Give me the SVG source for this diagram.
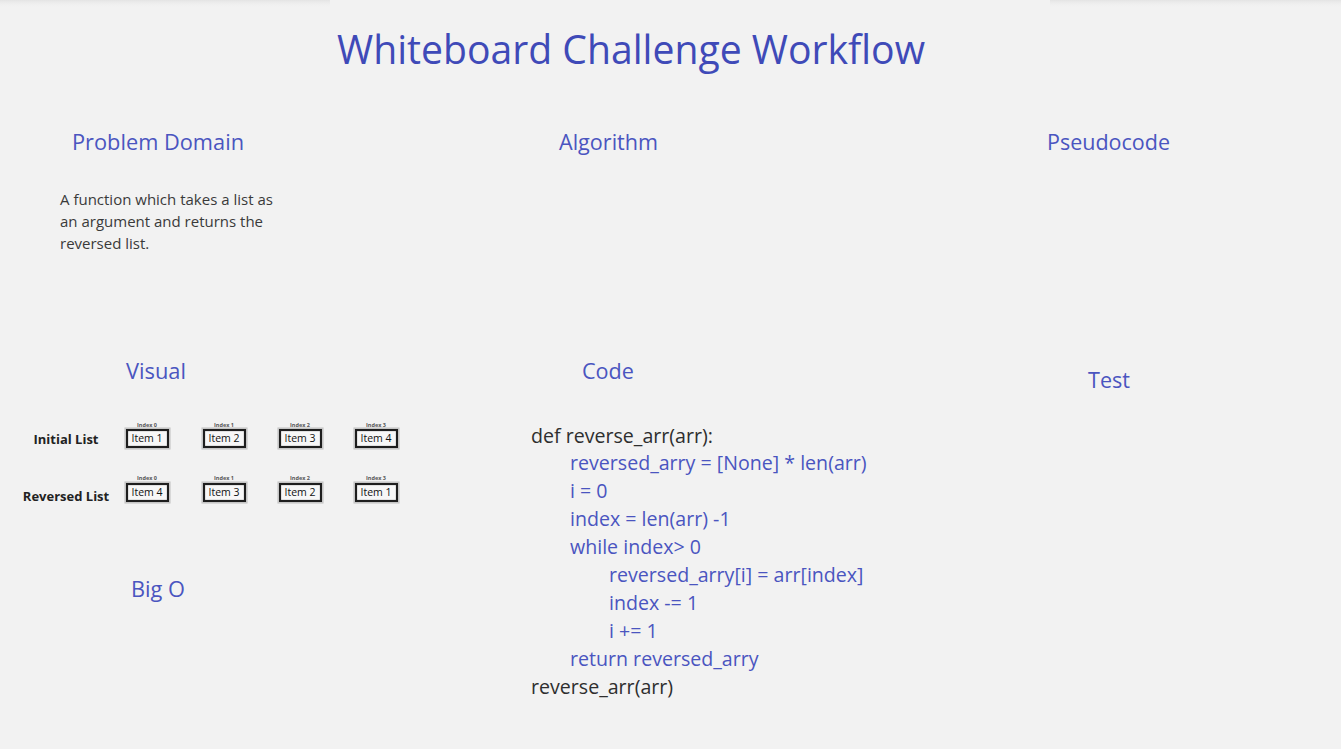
<svg xmlns="http://www.w3.org/2000/svg" width="1341" height="749" viewBox="0 0 1341 749">
<defs>
<linearGradient id="sh" x1="0" y1="0" x2="0" y2="1">
<stop offset="0" stop-color="#e4e4e4"/>
<stop offset="1" stop-color="#f2f2f2" stop-opacity="0"/>
</linearGradient>
<style>
text{font-family:"Open Sans","Noto Sans","Liberation Sans",sans-serif}
.title{font-size:41px;fill:#3f4ab8}
.h{font-size:21px;fill:#4a55c0}
.desc{font-size:15px;fill:#3a3a3a}
.code{font-size:19.6px;fill:#2e2e2e}
.cb{font-size:19.6px;fill:#4a55c0}
.lbl{font-size:13px;font-weight:bold;fill:#222}
.idx{font-size:5.5px;fill:#555;text-anchor:middle;font-weight:bold}
.item{font-size:10.5px;fill:#111;text-anchor:middle}
.box{fill:#f7f7f7;stroke:#1e1e1e;stroke-width:2.2}
.box2{fill:none;stroke:#bdbdbd;stroke-width:1}
</style>
</defs>
<rect width="1341" height="749" fill="#f2f2f2"/>
<rect x="0" y="0" width="330" height="8" fill="url(#sh)"/>
<rect x="1050" y="0" width="291" height="8" fill="url(#sh)"/>

<g id="title"><text class="title" x="337" y="64" textLength="588" lengthAdjust="spacingAndGlyphs">Whiteboard Challenge Workflow</text></g>

<g id="problem-domain">
<text class="h" x="72" y="150" textLength="172" lengthAdjust="spacingAndGlyphs">Problem Domain</text>
<text class="desc" x="60" y="205">A function which takes a list as</text>
<text class="desc" x="60" y="227">an argument and returns the</text>
<text class="desc" x="60" y="249">reversed list.</text>
</g>
<g id="algorithm"><text class="h" x="559" y="150" textLength="99" lengthAdjust="spacingAndGlyphs">Algorithm</text></g>
<g id="pseudocode"><text class="h" x="1047" y="150" textLength="123" lengthAdjust="spacingAndGlyphs">Pseudocode</text></g>

<g id="visual">
<text class="h" x="126" y="379" textLength="60" lengthAdjust="spacingAndGlyphs">Visual</text>
<text class="lbl" x="66" y="444" text-anchor="middle">Initial List</text>
<text class="lbl" x="66" y="501" text-anchor="middle">Reversed List</text>
<g id="initial-list">
<text class="idx" x="147" y="427">Index 0</text>
<rect class="box2" x="125" y="428" width="45" height="21"/><rect class="box" x="127" y="430" width="41" height="17"/>
<text class="item" x="147" y="442">Item 1</text>
<text class="idx" x="224" y="427">Index 1</text>
<rect class="box2" x="202" y="428" width="45" height="21"/><rect class="box" x="204" y="430" width="41" height="17"/>
<text class="item" x="224" y="442">Item 2</text>
<text class="idx" x="300" y="427">Index 2</text>
<rect class="box2" x="278" y="428" width="45" height="21"/><rect class="box" x="280" y="430" width="41" height="17"/>
<text class="item" x="300" y="442">Item 3</text>
<text class="idx" x="376" y="427">Index 3</text>
<rect class="box2" x="354" y="428" width="45" height="21"/><rect class="box" x="356" y="430" width="41" height="17"/>
<text class="item" x="376" y="442">Item 4</text>
</g>
<g id="reversed-list">
<text class="idx" x="147" y="480">Index 0</text>
<rect class="box2" x="125" y="482" width="45" height="21"/><rect class="box" x="127" y="484" width="41" height="17"/>
<text class="item" x="147" y="496">Item 4</text>
<text class="idx" x="224" y="480">Index 1</text>
<rect class="box2" x="202" y="482" width="45" height="21"/><rect class="box" x="204" y="484" width="41" height="17"/>
<text class="item" x="224" y="496">Item 3</text>
<text class="idx" x="300" y="480">Index 2</text>
<rect class="box2" x="278" y="482" width="45" height="21"/><rect class="box" x="280" y="484" width="41" height="17"/>
<text class="item" x="300" y="496">Item 2</text>
<text class="idx" x="376" y="480">Index 3</text>
<rect class="box2" x="354" y="482" width="45" height="21"/><rect class="box" x="356" y="484" width="41" height="17"/>
<text class="item" x="376" y="496">Item 1</text>
</g>
</g>

<g id="code">
<text class="h" x="582" y="379" textLength="52" lengthAdjust="spacingAndGlyphs">Code</text>
<text class="code" x="531" y="443">def reverse_arr(arr):</text>
<text class="cb" x="570" y="470">reversed_arry = [None] * len(arr)</text>
<text class="cb" x="570" y="498">i = 0</text>
<text class="cb" x="570" y="526">index = len(arr) -1</text>
<text class="cb" x="570" y="554">while index&gt; 0</text>
<text class="cb" x="609" y="582">reversed_arry[i] = arr[index]</text>
<text class="cb" x="609" y="610">index -= 1</text>
<text class="cb" x="609" y="638">i += 1</text>
<text class="cb" x="570" y="666">return reversed_arry</text>
<text class="code" x="531" y="694">reverse_arr(arr)</text>
</g>

<g id="test"><text class="h" x="1088" y="388" textLength="42" lengthAdjust="spacingAndGlyphs">Test</text></g>
<g id="big-o"><text class="h" x="131" y="597" textLength="54" lengthAdjust="spacingAndGlyphs">Big O</text></g>
</svg>
